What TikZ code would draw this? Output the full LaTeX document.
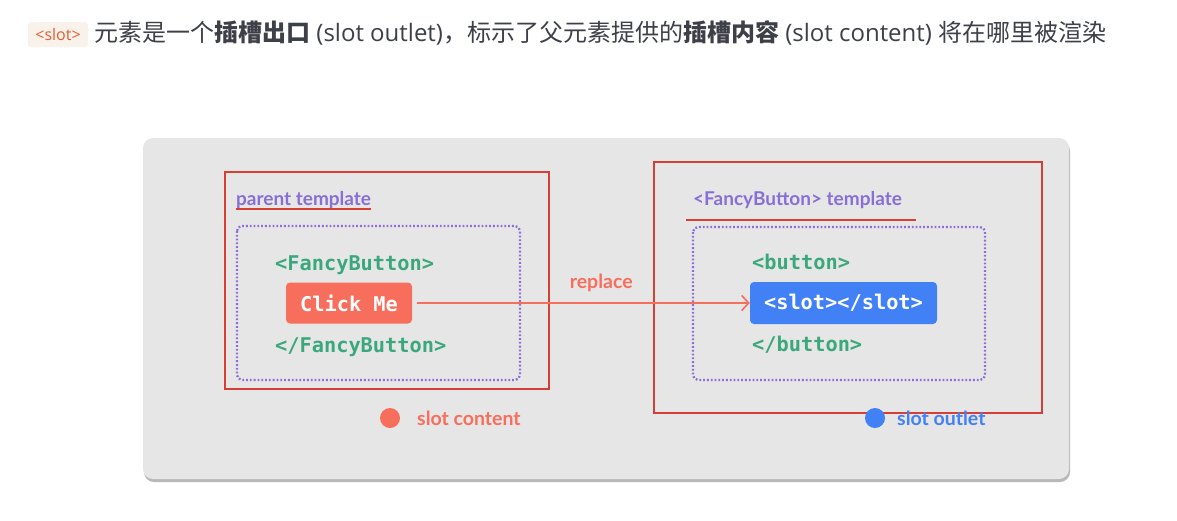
\documentclass[tikz,border=0pt]{standalone}
\usepackage{fontspec}
\setmainfont{Open Sans}
\newfontfamily\cjk{Noto Sans CJK SC}
\newfontfamily\labelfont{Lato}
\newfontfamily\codefont{DejaVu Sans Mono}
\usetikzlibrary{arrows.meta}
\definecolor{panelgray}{RGB}{230,230,230}
\definecolor{framered}{RGB}{214,64,52}
\definecolor{coral}{RGB}{248,110,92}
\definecolor{slotblue}{RGB}{66,128,246}
\definecolor{codegreen}{RGB}{58,168,124}
\definecolor{titlepurple}{RGB}{136,110,214}
\definecolor{dotpurple}{RGB}{140,110,215}
\definecolor{tagbg}{RGB}{248,242,234}
\definecolor{tagred}{RGB}{232,92,50}
\definecolor{inkgray}{RGB}{62,64,72}

\begin{document}
\begin{tikzpicture}[x=1pt, y=-1pt,
  frame/.style={draw=framered, line width=1.3pt},
  dotbox/.style={draw=dotpurple, line width=2.3pt, dash pattern=on 1.8pt off 2pt,
    rounded corners=5pt},
  tmpl/.style={anchor=base west, inner sep=0, text=titlepurple,
    font=\labelfont\bfseries\fontsize{19}{22}\selectfont},
  code/.style={anchor=base west, inner sep=0, text=codegreen,
    font=\codefont\bfseries\fontsize{20.3}{24}\selectfont},
  btn/.style={rounded corners=4pt, text=white, inner sep=0,
    font=\codefont\bfseries\fontsize{20.3}{24}\selectfont},
  legend/.style={anchor=west, inner sep=0,
    font=\labelfont\bfseries\fontsize{19.5}{22}\selectfont},
  underline/.style={framered, line width=1.5pt}]

\useasboundingbox[fill=white] (0,0) rectangle (1177,520);

% heading line
\node[fill=tagbg, rounded corners=3pt, text=tagred, inner sep=0,
  minimum width=60, minimum height=25, font=\fontsize{16}{18}\selectfont]
  (tag) at (58,34.5) {<slot>};
\node[anchor=base west, inner sep=0, text=inkgray, font=\fontsize{24}{28}\selectfont]
  (intro) at (94,41.5) {{\cjk 元素是一个\textbf{插槽出口}} (slot outlet){\cjk ，标示了父元素提供的\textbf{插槽内容}} (slot content) {\cjk 将在哪里被渲染}};

% panel
\fill[black!28, rounded corners=10pt] (144,141) rectangle (1070,482);
\fill[panelgray, rounded corners=10pt] (143,138) rectangle (1069,479);

% parent template
\draw[frame] (225,172) rectangle (549,389);
\node[tmpl] (ptitle) at (236,205) {parent template};
\draw[underline] ([yshift=-4pt]ptitle.base west) -- ([yshift=-4pt]ptitle.base east);
\draw[dotbox] (237,226) rectangle (520,380);
\node[code] (fbopen) at (275,270) {<FancyButton>};
\node[btn, fill=coral, minimum width=126, minimum height=41] (click) at (349,303) {Click Me};
\node[code] (fbclose) at (275,352) {</FancyButton>};

% FancyButton template
\draw[frame] (654,162) rectangle (1042,413);
\node[tmpl] (ftitle) at (693,205) {<FancyButton> template};
\draw[underline] (686,220) -- (916,220);
\draw[dotbox] (693,227) rectangle (985,380);
\node[code] (bopen) at (752,269) {<button>};
\node[btn, fill=slotblue, minimum width=187, minimum height=42] (slot) at (843.5,303) {<slot></slot>};
\node[code] (bclose) at (752,351) {</button>};

\draw[coral, line width=1.6pt, shorten <=5pt, -{Straight Barb[length=7pt, width=15pt]}]
  (click.east) -- node[pos=.56, above=10pt, inner sep=0, text=coral,
  font=\labelfont\bfseries\fontsize{19.5}{22}\selectfont] (repl) {replace} (slot.west);

% legend
\fill[coral] (390,418) circle (10pt);
\node[legend, text=coral] (content) at (417,418) {slot content};
\fill[slotblue] (875,418) circle (10pt);
\node[legend, text=slotblue] (outlet) at (897,418) {slot outlet};

\end{tikzpicture}
\end{document}
